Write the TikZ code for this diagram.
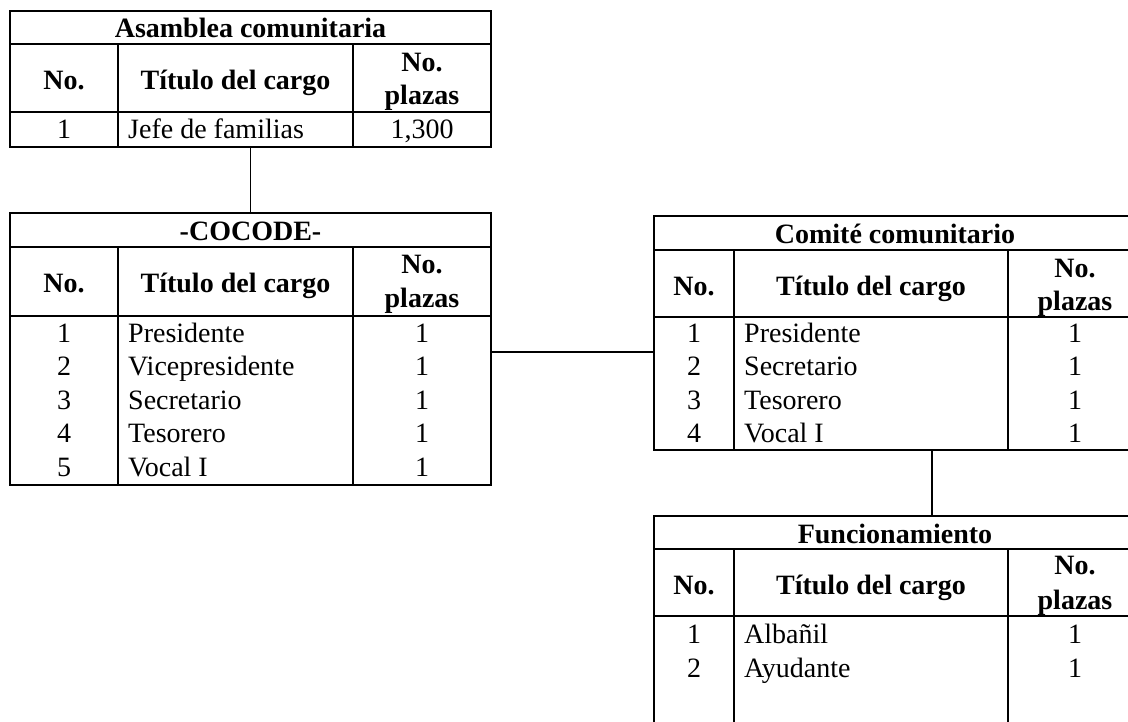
\documentclass[tikz,border=0pt]{standalone}
\usepackage{fontspec}
\setmainfont{Liberation Serif}
\begin{document}
\begin{tikzpicture}[x=1pt,y=-1pt,
  tbl/.style={draw, line width=1.2pt, outer sep=0pt, inner sep=0pt, anchor=north west},
  rule/.style={line width=1.2pt},
  link/.style={line width=1.6pt},
  hd/.style={font=\bfseries, anchor=base, inner sep=0pt},
  cc/.style={anchor=base, inner sep=0pt},
  lc/.style={anchor=base west, inner sep=0pt}]
\useasboundingbox (0,0) rectangle (1128,721);
\clip (0,0) rectangle (1128,721);
\fontsize{28}{34}\selectfont
% ---------- Asamblea comunitaria ----------
\node[tbl, minimum width=481pt, minimum height=136pt] (A) at (10,11) {};
\draw[rule] (10,44) -- (491,44) (10,112) -- (491,112)
  (118,44) -- (118,147) (353,44) -- (353,147);
\node[hd] (At) at (250.5,37) {Asamblea comunitaria};
\node[hd] (Ah1) at (64,89) {No.};
\node[hd] (Ah2) at (235.5,89) {Título del cargo};
\node[hd] (Ah3) at (422,71) {No.};
\node[hd] (Ah4) at (422,104) {plazas};
\node[cc] (Ar1a) at (64,138) {1};
\node[lc] (Ar1b) at (128,138) {Jefe de familias};
\node[cc] (Ar1c) at (422,138) {1,300};
% ---------- COCODE ----------
\node[tbl, minimum width=481pt, minimum height=272pt] (C) at (10,213) {};
\draw[rule] (10,247) -- (491,247) (10,316) -- (491,316)
  (118,247) -- (118,485) (353,247) -- (353,485);
\node[hd] (Ct) at (250.5,240) {-COCODE-};
\node[hd] (Ch1) at (64,292) {No.};
\node[hd] (Ch2) at (235.5,292) {Título del cargo};
\node[hd] (Ch3) at (422,273) {No.};
\node[hd] (Ch4) at (422,307) {plazas};
\foreach \n/\t [count=\i from 0] in {1/Presidente,2/Vicepresidente,3/Secretario,4/Tesorero,5/Vocal I}{
  \node[cc] (Cr\n a) at (64,342+33.5*\i) {\n};
  \node[lc] (Cr\n b) at (128,342+33.5*\i) {\t};
  \node[cc] (Cr\n c) at (422,342+33.5*\i) {1};
}
% ---------- Comité comunitario ----------
\node[tbl, minimum width=488pt, minimum height=234pt] (M) at (654,216) {};
\draw[rule] (654,250) -- (1142,250) (654,317) -- (1142,317)
  (734,250) -- (734,450) (1008,250) -- (1008,450);
\node[hd] (Mt) at (895,243) {Comité comunitario};
\node[hd] (Mh1) at (694,295) {No.};
\node[hd] (Mh2) at (871,295) {Título del cargo};
\node[hd] (Mh3) at (1075,277) {No.};
\node[hd] (Mh4) at (1075,310) {plazas};
\foreach \n/\t [count=\i from 0] in {1/Presidente,2/Secretario,3/Tesorero,4/Vocal I}{
  \node[cc] (Mr\n a) at (694,342+33.6*\i) {\n};
  \node[lc] (Mr\n b) at (744,342+33.6*\i) {\t};
  \node[cc] (Mr\n c) at (1075,342+33.6*\i) {1};
}
% ---------- Funcionamiento ----------
\node[tbl, minimum width=488pt, minimum height=260pt] (F) at (654,516) {};
\draw[rule] (654,549) -- (1142,549) (654,616) -- (1142,616)
  (734,549) -- (734,776) (1008,549) -- (1008,776);
\node[hd] (Ft) at (895,543) {Funcionamiento};
\node[hd] (Fh1) at (694,594) {No.};
\node[hd] (Fh2) at (871,594) {Título del cargo};
\node[hd] (Fh3) at (1075,574) {No.};
\node[hd] (Fh4) at (1075,609) {plazas};
\node[cc] (Fr1a) at (694,643) {1};
\node[lc] (Fr1b) at (744,643) {Albañil};
\node[cc] (Fr1c) at (1075,643) {1};
\node[cc] (Fr2a) at (694,677) {2};
\node[lc] (Fr2b) at (744,677) {Ayudante};
\node[cc] (Fr2c) at (1075,677) {1};
% ---------- connectors ----------
\coordinate (hlink) at (0,352);
\coordinate (vlink) at (932,0);
\draw[link] (A.south) -- (C.north);
\draw[link] (C.east |- hlink) -- (M.west |- hlink);
\draw[link] (M.south -| vlink) -- (F.north -| vlink);
\end{tikzpicture}
\end{document}
